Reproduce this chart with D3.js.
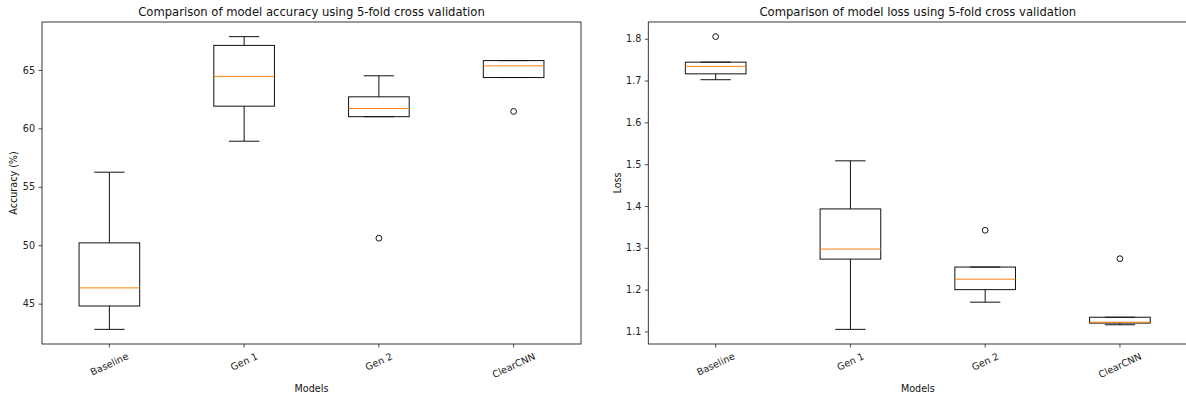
<!DOCTYPE html>
<html>
<head>
<meta charset="utf-8">
<script src="https://cdn.jsdelivr.net/npm/d3@7"></script>
<style>
  body { margin: 0; background: #fff; }
  svg { display: block; font-family: "DejaVu Sans", sans-serif; }
</style>
</head>
<body>
<svg id="chart" width="1186" height="396"></svg>
<script>
// categories
const models = ["Baseline", "Gen 1", "Gen 2", "ClearCNN"];

// accuracy (%) box summaries
const accLow    = [42.8, 58.9, 61.0, 64.35];
const accQ1     = [44.8, 61.9, 61.0, 64.35];
const accMedian = [46.35, 64.45, 61.7, 65.35];
const accQ3     = [50.2, 67.1, 62.7, 65.8];
const accHigh   = [56.25, 67.85, 64.5, 65.8];
const accOutliers = [[], [], [50.6], [61.45]];
const accTicks = [45, 50, 55, 60, 65];

// loss box summaries
const lossLow    = [1.702, 1.105, 1.17, 1.116];
const lossQ1     = [1.716, 1.273, 1.2, 1.12];
const lossMedian = [1.734, 1.297, 1.225, 1.122];
const lossQ3     = [1.744, 1.393, 1.254, 1.134];
const lossHigh   = [1.744, 1.508, 1.254, 1.134];
const lossOutliers = [[1.805], [], [1.342], [1.274]];
const lossTicks = [1.1, 1.2, 1.3, 1.4, 1.5, 1.6, 1.7, 1.8];

const svg = d3.select("#chart");
const W = 539, H = 322, marginTop = 22;
const tickFont = 9.6;

function drawPanel(opts) {
  const g = svg.append("g").attr("transform", "translate(" + opts.left + "," + marginTop + ")");

  const boxes = models.map((m, i) => ({
    name: m, low: opts.low[i], q1: opts.q1[i], med: opts.median[i],
    q3: opts.q3[i], high: opts.high[i], out: opts.outliers[i]
  }));

  // matplotlib-style 5% margins around all the data
  const all = boxes.flatMap(b => [b.low, b.high, ...b.out]);
  const lo = d3.min(all), hi = d3.max(all), pad = (hi - lo) * 0.05;

  const x = d3.scaleBand().domain(models).range([0, W]).padding(0);
  const y = d3.scaleLinear().domain([lo - pad, hi + pad]).range([H, 0]);
  const cx = d => x(d) + x.bandwidth() / 2;
  const bw = x.bandwidth() * 0.45;

  // y axis
  const ya = g.append("g").call(d3.axisLeft(y).tickValues(opts.ticks)
      .tickFormat(opts.fmt).tickSizeOuter(0).tickSize(3.5).tickPadding(3.5));
  ya.select(".domain").remove();
  ya.selectAll("line").attr("stroke", "#222").attr("stroke-width", 0.8);
  ya.selectAll("text").attr("font-size", tickFont).attr("fill", "#222")
    .attr("font-family", "DejaVu Sans");

  // x axis with rotated labels
  const xa = g.append("g").attr("transform", "translate(0," + H + ")")
    .call(d3.axisBottom(x).tickSizeOuter(0).tickSize(3.5).tickPadding(3));
  xa.select(".domain").remove();
  xa.selectAll("line").attr("stroke", "#222").attr("stroke-width", 0.8);
  const ang = 25 * Math.PI / 180;
  xa.selectAll("text")
    .attr("font-size", tickFont).attr("fill", "#222").attr("font-family", "DejaVu Sans")
    .attr("text-anchor", "middle").attr("y", 0).attr("dy", "0.35em")
    .each(function() {
      const w = this.getComputedTextLength();
      const h = tickFont * 1.164;
      const bh = w * Math.sin(ang) + h * Math.cos(ang);
      d3.select(this).attr("transform", "translate(0," + (6.5 + bh / 2) + ") rotate(-25)");
    });

  // boxes
  const bg = g.selectAll(".box").data(boxes).enter().append("g").attr("class", "box");
  const stroke = "#111";
  bg.append("line").attr("x1", d => cx(d.name)).attr("x2", d => cx(d.name))
    .attr("y1", d => y(d.q3)).attr("y2", d => y(d.high)).attr("stroke", stroke);
  bg.append("line").attr("x1", d => cx(d.name)).attr("x2", d => cx(d.name))
    .attr("y1", d => y(d.q1)).attr("y2", d => y(d.low)).attr("stroke", stroke);
  bg.append("line").attr("x1", d => cx(d.name) - bw / 4).attr("x2", d => cx(d.name) + bw / 4)
    .attr("y1", d => y(d.high)).attr("y2", d => y(d.high)).attr("stroke", stroke);
  bg.append("line").attr("x1", d => cx(d.name) - bw / 4).attr("x2", d => cx(d.name) + bw / 4)
    .attr("y1", d => y(d.low)).attr("y2", d => y(d.low)).attr("stroke", stroke);
  bg.append("rect").attr("x", d => cx(d.name) - bw / 2).attr("width", bw)
    .attr("y", d => y(d.q3)).attr("height", d => y(d.q1) - y(d.q3))
    .attr("fill", "none").attr("stroke", stroke);
  bg.append("line").attr("x1", d => cx(d.name) - bw / 2).attr("x2", d => cx(d.name) + bw / 2)
    .attr("y1", d => y(d.med)).attr("y2", d => y(d.med))
    .attr("stroke", "#ff7f0e").attr("stroke-width", 1);
  bg.selectAll("circle").data(d => d.out.map(v => ({ name: d.name, v: v })))
    .enter().append("circle")
    .attr("cx", d => cx(d.name)).attr("cy", d => y(d.v)).attr("r", 2.9)
    .attr("fill", "none").attr("stroke", stroke).attr("stroke-width", 1);

  // frame
  g.append("rect").attr("width", W).attr("height", H)
    .attr("fill", "none").attr("stroke", "#222").attr("stroke-width", 0.9);

  // titles and labels
  g.append("text").attr("x", W / 2).attr("y", -6).attr("text-anchor", "middle")
    .attr("font-size", 11.6).attr("fill", "#111").text(opts.title);
  g.append("text").attr("x", W / 2).attr("y", 369.5).attr("text-anchor", "middle")
    .attr("font-size", tickFont).attr("fill", "#111").text("Models");
  g.append("text").attr("transform", "translate(" + opts.ylabX + "," + H / 2 + ") rotate(-90)")
    .attr("text-anchor", "middle").attr("dy", "0.35em")
    .attr("font-size", tickFont).attr("fill", "#111").text(opts.ylabel);
}

drawPanel({
  left: 42, low: accLow, q1: accQ1, median: accMedian, q3: accQ3, high: accHigh,
  outliers: accOutliers, ticks: accTicks, fmt: d3.format("d"),
  title: "Comparison of model accuracy using 5-fold cross validation",
  ylabel: "Accuracy (%)", ylabX: -28.5
});

drawPanel({
  left: 648.3, low: lossLow, q1: lossQ1, median: lossMedian, q3: lossQ3, high: lossHigh,
  outliers: lossOutliers, ticks: lossTicks, fmt: d3.format(".1f"),
  title: "Comparison of model loss using 5-fold cross validation",
  ylabel: "Loss", ylabX: -31
});
</script>
</body>
</html>
